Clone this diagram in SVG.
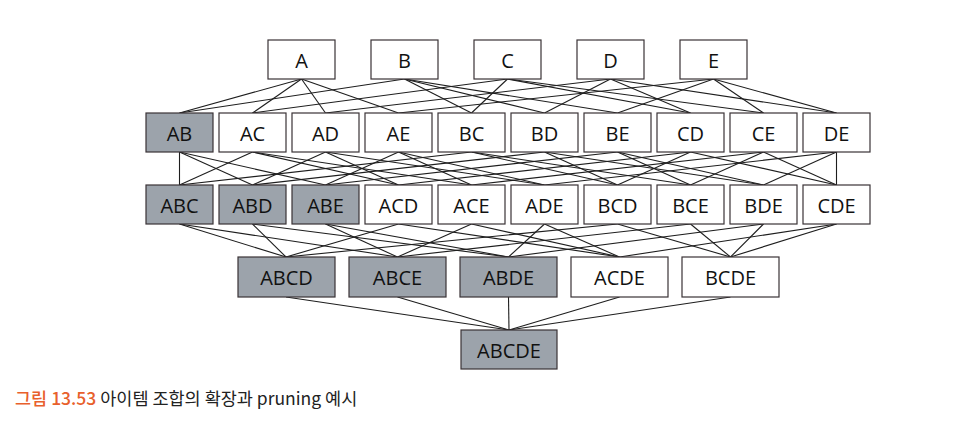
<svg xmlns="http://www.w3.org/2000/svg" width="978" height="428" viewBox="0 0 978 428">
<style>
.n rect{fill:#ffffff;stroke:#3a3336;stroke-width:1.2}
.p rect{fill:#9ca3ab}
.n text{font-family:"Open Sans","Noto Sans",sans-serif;font-size:20px;fill:#111;text-anchor:middle;dominant-baseline:central}
#connectors line{stroke:#1e1e1e;stroke-width:1.1}
.cap{font-family:"Noto Sans CJK KR","Noto Sans",sans-serif;font-size:17.5px}
</style>
<rect width="978" height="428" fill="#ffffff"/>
<g id="connectors">
<!-- level 1 to 2 -->
<line x1="301.5" y1="79" x2="179.5" y2="113"/><line x1="301.5" y1="79" x2="252.5" y2="113"/><line x1="301.5" y1="79" x2="325.5" y2="113"/><line x1="301.5" y1="79" x2="398.5" y2="113"/>
<line x1="404.5" y1="79" x2="179.5" y2="113"/><line x1="404.5" y1="79" x2="471.5" y2="113"/><line x1="404.5" y1="79" x2="544.5" y2="113"/><line x1="404.5" y1="79" x2="617.5" y2="113"/>
<line x1="507.5" y1="79" x2="252.5" y2="113"/><line x1="507.5" y1="79" x2="471.5" y2="113"/><line x1="507.5" y1="79" x2="690.5" y2="113"/><line x1="507.5" y1="79" x2="763.5" y2="113"/>
<line x1="610.5" y1="79" x2="325.5" y2="113"/><line x1="610.5" y1="79" x2="544.5" y2="113"/><line x1="610.5" y1="79" x2="690.5" y2="113"/><line x1="610.5" y1="79" x2="836.5" y2="113"/>
<line x1="713.5" y1="79" x2="398.5" y2="113"/><line x1="713.5" y1="79" x2="617.5" y2="113"/><line x1="713.5" y1="79" x2="763.5" y2="113"/><line x1="713.5" y1="79" x2="836.5" y2="113"/>
<!-- level 2 to 3 -->
<line x1="179.5" y1="152" x2="179.5" y2="185"/><line x1="179.5" y1="152" x2="252.5" y2="185"/><line x1="179.5" y1="152" x2="325.5" y2="185"/>
<line x1="252.5" y1="152" x2="179.5" y2="185"/><line x1="252.5" y1="152" x2="398.5" y2="185"/><line x1="252.5" y1="152" x2="471.5" y2="185"/>
<line x1="325.5" y1="152" x2="252.5" y2="185"/><line x1="325.5" y1="152" x2="398.5" y2="185"/><line x1="325.5" y1="152" x2="544.5" y2="185"/>
<line x1="398.5" y1="152" x2="325.5" y2="185"/><line x1="398.5" y1="152" x2="471.5" y2="185"/><line x1="398.5" y1="152" x2="544.5" y2="185"/>
<line x1="471.5" y1="152" x2="179.5" y2="185"/><line x1="471.5" y1="152" x2="617.5" y2="185"/><line x1="471.5" y1="152" x2="690.5" y2="185"/>
<line x1="544.5" y1="152" x2="252.5" y2="185"/><line x1="544.5" y1="152" x2="617.5" y2="185"/><line x1="544.5" y1="152" x2="763.5" y2="185"/>
<line x1="617.5" y1="152" x2="325.5" y2="185"/><line x1="617.5" y1="152" x2="690.5" y2="185"/><line x1="617.5" y1="152" x2="763.5" y2="185"/>
<line x1="690.5" y1="152" x2="398.5" y2="185"/><line x1="690.5" y1="152" x2="617.5" y2="185"/><line x1="690.5" y1="152" x2="836.5" y2="185"/>
<line x1="763.5" y1="152" x2="471.5" y2="185"/><line x1="763.5" y1="152" x2="690.5" y2="185"/><line x1="763.5" y1="152" x2="836.5" y2="185"/>
<line x1="836.5" y1="152" x2="544.5" y2="185"/><line x1="836.5" y1="152" x2="763.5" y2="185"/><line x1="836.5" y1="152" x2="836.5" y2="185"/>
<!-- level 3 to 4 -->
<line x1="179.5" y1="224" x2="286" y2="257"/><line x1="179.5" y1="224" x2="397.5" y2="257"/>
<line x1="252.5" y1="224" x2="286" y2="257"/><line x1="252.5" y1="224" x2="508.5" y2="257"/>
<line x1="325.5" y1="224" x2="397.5" y2="257"/><line x1="325.5" y1="224" x2="508.5" y2="257"/>
<line x1="398.5" y1="224" x2="286" y2="257"/><line x1="398.5" y1="224" x2="619.5" y2="257"/>
<line x1="471.5" y1="224" x2="397.5" y2="257"/><line x1="471.5" y1="224" x2="619.5" y2="257"/>
<line x1="544.5" y1="224" x2="508.5" y2="257"/><line x1="544.5" y1="224" x2="619.5" y2="257"/>
<line x1="617.5" y1="224" x2="286" y2="257"/><line x1="617.5" y1="224" x2="730.5" y2="257"/>
<line x1="690.5" y1="224" x2="397.5" y2="257"/><line x1="690.5" y1="224" x2="730.5" y2="257"/>
<line x1="763.5" y1="224" x2="508.5" y2="257"/><line x1="763.5" y1="224" x2="730.5" y2="257"/>
<line x1="836.5" y1="224" x2="619.5" y2="257"/><line x1="836.5" y1="224" x2="730.5" y2="257"/>
<!-- level 4 to 5 -->
<line x1="286" y1="297" x2="509" y2="330"/><line x1="397.5" y1="297" x2="509" y2="330"/><line x1="508.5" y1="297" x2="509" y2="330"/><line x1="619.5" y1="297" x2="509" y2="330"/><line x1="730.5" y1="297" x2="509" y2="330"/>
</g>
<!-- level 1 -->
<g id="A" class="n"><rect x="268" y="40" width="67" height="39"/><text x="301.5" y="60">A</text></g>
<g id="B" class="n"><rect x="371" y="40" width="67" height="39"/><text x="404.5" y="60">B</text></g>
<g id="C" class="n"><rect x="474" y="40" width="67" height="39"/><text x="507.5" y="60">C</text></g>
<g id="D" class="n"><rect x="577" y="40" width="67" height="39"/><text x="610.5" y="60">D</text></g>
<g id="E" class="n"><rect x="680" y="40" width="67" height="39"/><text x="713.5" y="60">E</text></g>
<!-- level 2 -->
<g id="AB" class="n p"><rect x="146" y="113" width="67" height="39"/><text x="179.5" y="133">AB</text></g>
<g id="AC" class="n"><rect x="219" y="113" width="67" height="39"/><text x="252.5" y="133">AC</text></g>
<g id="AD" class="n"><rect x="292" y="113" width="67" height="39"/><text x="325.5" y="133">AD</text></g>
<g id="AE" class="n"><rect x="365" y="113" width="67" height="39"/><text x="398.5" y="133">AE</text></g>
<g id="BC" class="n"><rect x="438" y="113" width="67" height="39"/><text x="471.5" y="133">BC</text></g>
<g id="BD" class="n"><rect x="511" y="113" width="67" height="39"/><text x="544.5" y="133">BD</text></g>
<g id="BE" class="n"><rect x="584" y="113" width="67" height="39"/><text x="617.5" y="133">BE</text></g>
<g id="CD" class="n"><rect x="657" y="113" width="67" height="39"/><text x="690.5" y="133">CD</text></g>
<g id="CE" class="n"><rect x="730" y="113" width="67" height="39"/><text x="763.5" y="133">CE</text></g>
<g id="DE" class="n"><rect x="803" y="113" width="67" height="39"/><text x="836.5" y="133">DE</text></g>
<!-- level 3 -->
<g id="ABC" class="n p"><rect x="146" y="185" width="67" height="39"/><text x="179.5" y="205">ABC</text></g>
<g id="ABD" class="n p"><rect x="219" y="185" width="67" height="39"/><text x="252.5" y="205">ABD</text></g>
<g id="ABE" class="n p"><rect x="292" y="185" width="67" height="39"/><text x="325.5" y="205">ABE</text></g>
<g id="ACD" class="n"><rect x="365" y="185" width="67" height="39"/><text x="398.5" y="205">ACD</text></g>
<g id="ACE" class="n"><rect x="438" y="185" width="67" height="39"/><text x="471.5" y="205">ACE</text></g>
<g id="ADE" class="n"><rect x="511" y="185" width="67" height="39"/><text x="544.5" y="205">ADE</text></g>
<g id="BCD" class="n"><rect x="584" y="185" width="67" height="39"/><text x="617.5" y="205">BCD</text></g>
<g id="BCE" class="n"><rect x="657" y="185" width="67" height="39"/><text x="690.5" y="205">BCE</text></g>
<g id="BDE" class="n"><rect x="730" y="185" width="67" height="39"/><text x="763.5" y="205">BDE</text></g>
<g id="CDE" class="n"><rect x="803" y="185" width="67" height="39"/><text x="836.5" y="205">CDE</text></g>
<!-- level 4 -->
<g id="ABCD" class="n p"><rect x="238" y="257" width="97" height="40"/><text x="286.5" y="277.5">ABCD</text></g>
<g id="ABCE" class="n p"><rect x="349" y="257" width="97" height="40"/><text x="397.5" y="277.5">ABCE</text></g>
<g id="ABDE" class="n p"><rect x="460" y="257" width="97" height="40"/><text x="508.5" y="277.5">ABDE</text></g>
<g id="ACDE" class="n"><rect x="571" y="257" width="97" height="40"/><text x="619.5" y="277.5">ACDE</text></g>
<g id="BCDE" class="n"><rect x="682" y="257" width="97" height="40"/><text x="730.5" y="277.5">BCDE</text></g>
<!-- level 5 -->
<g id="ABCDE" class="n p"><rect x="461" y="330" width="96" height="39"/><text x="509" y="350">ABCDE</text></g>
<text class="cap" x="15" y="405"><tspan fill="#e8602c" font-weight="500">그림 13.53</tspan><tspan fill="#222"> 아이템 조합의 확장과 pruning 예시</tspan></text>
</svg>
